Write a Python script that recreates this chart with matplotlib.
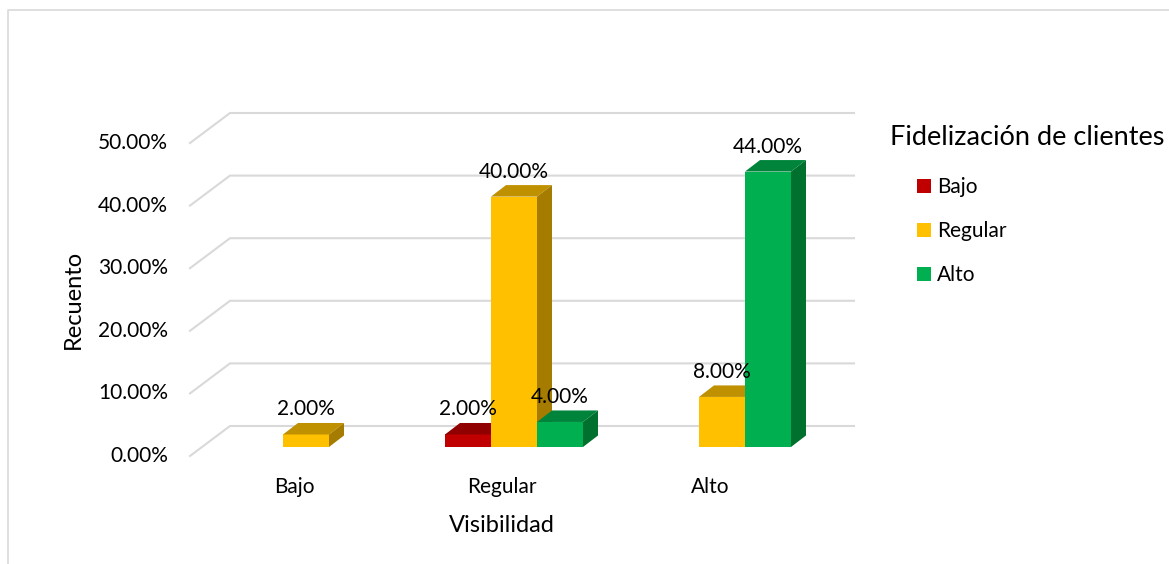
import matplotlib.pyplot as plt
from matplotlib.patches import Polygon, Rectangle

plt.rcParams['font.family'] = ['Lato', 'DejaVu Sans']

# Visibilidad categories on the x axis
categories = ["Bajo", "Regular", "Alto"]
# Fidelización de clientes levels (series), percentages per category; None = empty cell
series_names = ["Bajo", "Regular", "Alto"]
fid_bajo = [None, 2.0, None]
fid_regular = [2.0, 40.0, 8.0]
fid_alto = [None, 4.0, 44.0]
yticks = [0, 10, 20, 30, 40, 50]

# front / top / side shades per series
face_colors = [("#C00000", "#900000", "#780000"),
               ("#FFC000", "#BF9000", "#A67C00"),
               ("#00B050", "#00843C", "#00702E")]

W, H = 1169, 564
X0, Y0 = 306, 447        # pixel spot of category 0 at 0 %
SX, SY = 208, 6.26       # pixels per category, pixels per percent
BAR_W = 46 / SX
BAR_DEPTH = (15, 11.5)   # oblique depth of a column (right, up) in px
BACK = (28, 21)          # back wall offset from the column plane
FRONT = (-12, -9)        # front edge of the floor
GRID = "#D9D9D9"
FS = 15


def shift(right, up):
    return right / SX, up / SY


fig = plt.figure(figsize=(W / 100, H / 100), dpi=100)
ax = fig.add_axes([0, 0, 1, 1])
ax.set_xlim(-X0 / SX, (W - X0) / SX)
ax.set_ylim(-(H - Y0) / SY, Y0 / SY)
ax.axis("off")

# chart border (top and left edges visible)
fig.add_artist(plt.Line2D([8 / W, 8 / W, 1], [0, 1 - 10 / H, 1 - 10 / H],
                          transform=fig.transFigure, color=GRID, lw=1.2))

# back wall and side wall gridlines
bx, by = shift(*BACK)
fx, fy = shift(*FRONT)
x_left, x_right = -0.5, len(categories) - 0.5
for t in yticks:
    ax.plot([x_right + bx, x_left + bx, x_left + fx], [t + by, t + by, t + fy],
            color=GRID, lw=1.5, zorder=1, solid_joinstyle="miter")
    ax.annotate(f"{t:.2f}%", xy=(x_left + fx, t + fy), xytext=(-22, 0),
                textcoords="offset pixels", ha="right", va="center", fontsize=FS)

# 3-D looking columns, drawn left to right so neighbours overlap correctly
dx, dy = shift(*BAR_DEPTH)
all_series = [fid_bajo, fid_regular, fid_alto]
for s, values in enumerate(all_series):
    front_c, top_c, side_c = face_colors[s]
    for i, v in enumerate(values):
        if v is None:
            continue
        xl = i + (s - 1) * BAR_W - BAR_W / 2
        xr = xl + BAR_W
        ax.add_patch(Rectangle((xl, 0), BAR_W, v, facecolor=front_c,
                               edgecolor="none", zorder=3 + s))
        ax.add_patch(Polygon([(xl, v), (xr, v), (xr + dx, v + dy), (xl + dx, v + dy)],
                             facecolor=top_c, edgecolor="none", zorder=3 + s))
        ax.add_patch(Polygon([(xr, 0), (xr + dx, dy), (xr + dx, v + dy), (xr, v)],
                             facecolor=side_c, edgecolor="none", zorder=3 + s))
        ax.annotate(f"{v:.2f}%", xy=(xl + BAR_W / 2, v), xytext=(0, 25),
                    textcoords="offset pixels", ha="center", va="center",
                    fontsize=FS, zorder=10)

# category labels and axis titles
for i, c in enumerate(categories):
    ax.annotate(c, xy=(i + fx, fy), xytext=(0, -31), textcoords="offset pixels",
                ha="center", va="center", fontsize=FS)
ax.annotate("Visibilidad", xy=(1 + fx, fy), xytext=(0, -69),
            textcoords="offset pixels", ha="center", va="center", fontsize=17)
ax.annotate("Recuento", xy=(x_left + fx, 25 + fy), xytext=(-117, 0),
            textcoords="offset pixels", ha="center", va="center",
            rotation=90, fontsize=17)

# legend
fig.text(890 / W, 1 - 145 / H, "Fidelización de clientes", ha="left",
         va="baseline", fontsize=19.5)
for s, name in enumerate(series_names):
    base = 193 + s * 44
    fig.add_artist(Rectangle((917 / W, 1 - base / H), 14 / W, 14 / H,
                             transform=fig.transFigure,
                             facecolor=face_colors[s][0], edgecolor="none"))
    fig.text(937 / W, 1 - base / H, name, ha="left", va="baseline", fontsize=FS)

fig.savefig("out.png", dpi=100)
